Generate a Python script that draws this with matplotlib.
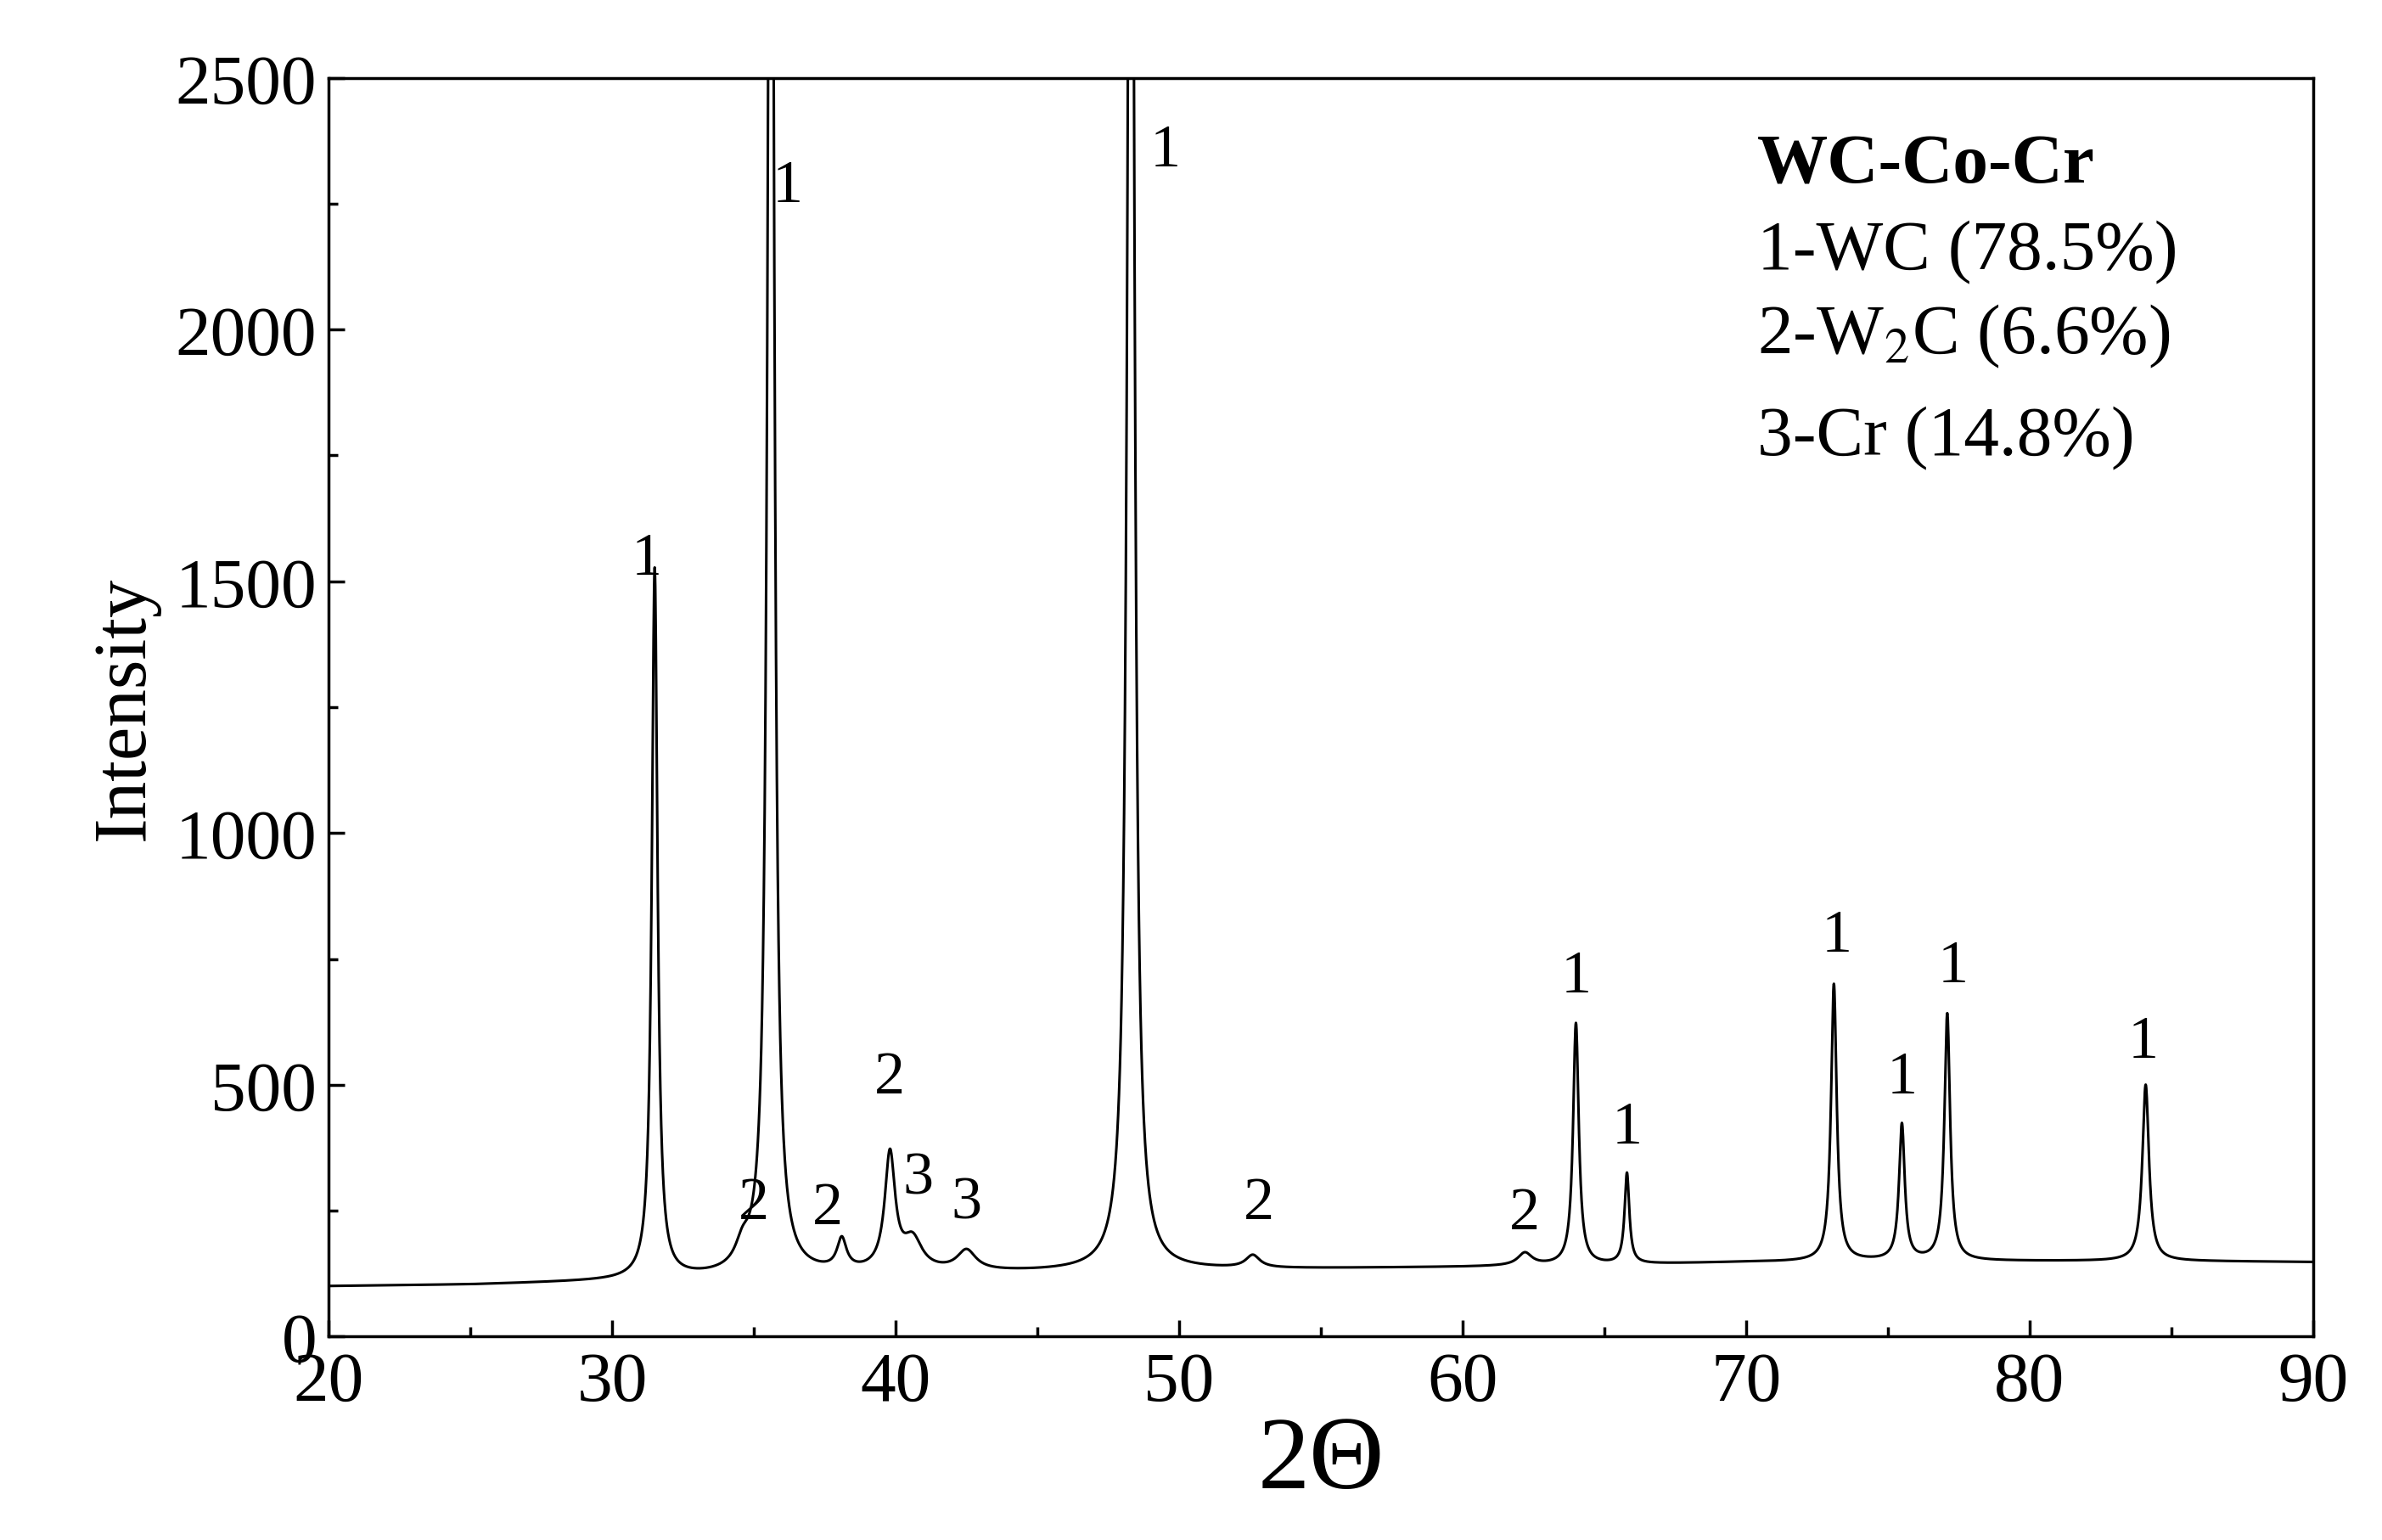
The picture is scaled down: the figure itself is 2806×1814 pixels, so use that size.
import numpy as np
import matplotlib
matplotlib.use("Agg")
import matplotlib.pyplot as plt

plt.rcParams['font.family'] = ['Liberation Serif', 'DejaVu Serif']
plt.rcParams['mathtext.fontset'] = 'stix'

# background points (2theta, intensity)
bg_x = [20, 25, 30, 35, 40, 45, 50, 55, 60, 65, 70, 75, 80, 85, 90]
bg_y = [100, 103, 110, 120, 125, 128, 132, 135, 138, 142, 148, 150, 150, 150, 148]
# peaks: position, height above background, width (HWHM)
pk_pos = [31.5, 34.6, 35.6, 38.1, 39.8, 40.6, 42.5, 48.3, 52.6, 62.2, 64.0, 65.8, 73.1, 75.5, 77.1, 84.1]
pk_h   = [1410, 40, 4000, 60, 230, 60, 40, 4000, 25, 25, 480, 180, 550, 270, 490, 350]
pk_w   = [0.12, 0.3, 0.12, 0.2, 0.22, 0.4, 0.4, 0.13, 0.3, 0.3, 0.12, 0.1, 0.12, 0.12, 0.12, 0.14]

# peak labels
lab_x = [31.2, 35.0, 36.2, 37.6, 39.8, 40.8, 42.5, 49.5, 52.8, 62.2, 64.0, 65.8, 73.2, 75.5, 77.3, 84.0]
lab_y = [1490, 210, 2230, 200, 460, 260, 210, 2300, 210, 190, 660, 360, 740, 460, 680, 530]
lab_t = ['1', '2', '1', '2', '2', '3', '3', '1', '2', '2', '1', '1', '1', '1', '1', '1']

x = np.linspace(20, 90, 7001)
y = np.interp(x, bg_x, bg_y)
for p, h, w in zip(pk_pos, pk_h, pk_w):
    y = y + h / (1 + ((x - p) / w) ** 2)

fig = plt.figure(figsize=(28.06, 18.15), dpi=100)
ax = fig.add_axes([0.138, 0.132, 0.833, 0.817])
ax.plot(x, y, color='black', lw=2.2)
ax.set_xlim(20, 90)
ax.set_ylim(0, 2500)
ax.set_xticks(range(20, 91, 10))
ax.set_xticks(range(25, 90, 10), minor=True)
ax.set_yticks(range(0, 2501, 500))
ax.set_yticks(range(250, 2500, 500), minor=True)
ax.tick_params(which='both', direction='in', width=2.5, labelsize=60, top=False, right=False)
ax.tick_params(which='major', length=14)
ax.tick_params(axis='x', pad=12)
ax.tick_params(axis='y', pad=10)
ax.tick_params(which='minor', length=8)
for s in ax.spines.values():
    s.set_linewidth(2.5)
ax.set_xlabel('2Θ', fontsize=88, labelpad=0)
ax.set_ylabel('Intensity', fontsize=64, labelpad=14)

for lx, ly, t in zip(lab_x, lab_y, lab_t):
    ax.text(lx, ly, t, fontsize=52, ha='center', va='bottom')

ax.text(0.72, 0.93, 'WC-Co-Cr', transform=ax.transAxes, fontsize=60, fontweight='bold', va='center')
ax.text(0.72, 0.862, '1-WC (78.5%)', transform=ax.transAxes, fontsize=60, va='center')
ax.text(0.72, 0.795, '2-W$_2$C (6.6%)', transform=ax.transAxes, fontsize=60, va='center')
ax.text(0.72, 0.714, '3-Cr (14.8%)', transform=ax.transAxes, fontsize=60, va='center')

fig.savefig('out.png', dpi=100)
